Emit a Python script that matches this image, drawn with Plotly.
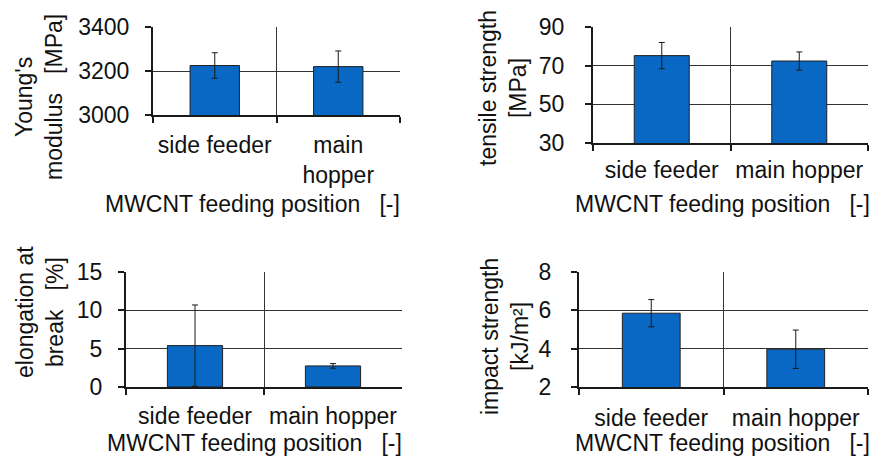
import plotly.graph_objects as go

# page body has an 8px margin; the figure is sized so it ends at the window edge
OFF = 8
W, H = 879 - OFF, 459 - OFF

# ---- data ----
cats_p1 = ["side feeder", "main<br>hopper"]
cats = ["side feeder", "main hopper"]

youngs_modulus = [3225, 3220]
youngs_err = [58, 71]

tensile_strength = [75.2, 72.4]
tensile_err = [6.8, 4.7]

elongation = [5.4, 2.75]
elongation_err = [5.3, 0.3]

impact_strength = [5.85, 3.97]
impact_err = [0.71, 1.0]

y_titles = ["Young's<br>modulus   [MPa]", "tensile strength<br>[MPa]",
            "elongation at<br>break   [%]", "impact strength<br>[kJ/m²]"]
x_title = "MWCNT feeding position   [-]"

y_ticks = [[3000, 3200, 3400], [30, 50, 70, 90], [0, 5, 10, 15], [2, 4, 6, 8]]
y_ranges = [[3000, 3400], [30, 90], [0, 15], [2, 8]]

# ---- layout geometry (window pixels) ----
panels = [
    dict(x0=153, x1=400, y0=27, y1=115, ystand=11, xstand=8, ytx=39, yty=97, xtx=252, xty=204),
    dict(x0=593, x1=868, y0=27, y1=143, ystand=16, xstand=5, ytx=503, yty=88, xtx=722, xty=204),
    dict(x0=126, x1=402, y0=272, y1=387, ystand=11, xstand=7, ytx=40, yty=312, xtx=254, xty=443),
    dict(x0=579, x1=868, y0=272, y1=387, ystand=15, xstand=9, ytx=505, yty=337, xtx=722, xty=443),
]

series = [
    (cats_p1, youngs_modulus, youngs_err),
    (cats, tensile_strength, tensile_err),
    (cats, elongation, elongation_err),
    (cats, impact_strength, impact_err),
]

FONT = "Liberation Sans, Arial, sans-serif"
FS = 23
BAR = "#0868C4"
INK = "#1a1a1a"


def px(x):
    return (x - OFF) / W


def py(y):
    return 1 - (y - OFF) / H


fig = go.Figure()
annotations = []
for i, (p, (cx, vals, errs)) in enumerate(zip(panels, series)):
    n = "" if i == 0 else str(i + 1)
    fig.add_trace(go.Bar(
        x=cx, y=vals, width=0.4,
        marker=dict(color=BAR, line=dict(color="#222", width=1)),
        error_y=dict(type="data", array=errs, visible=True, color=INK,
                     thickness=1, width=3),
        xaxis="x" + n, yaxis="y" + n, showlegend=False,
    ))
    fig.layout["xaxis" + n] = dict(
        domain=[px(p["x0"]), px(p["x1"])], anchor="y" + n,
        type="category", tickson="boundaries", tickangle=0,
        automargin=False,
        showline=True, linecolor=INK, linewidth=2,
        ticks="outside", ticklen=6, tickwidth=2, tickcolor=INK,
        showgrid=True, gridcolor="#333", gridwidth=1,
        ticklabelstandoff=p["xstand"],
        tickfont=dict(family=FONT, size=FS, color="#111"),
        range=[-0.5, 1.5], fixedrange=True,
    )
    fig.layout["yaxis" + n] = dict(
        domain=[py(p["y1"]), py(p["y0"])], anchor="x" + n, range=y_ranges[i],
        automargin=False,
        tickmode="array", tickvals=y_ticks[i],
        showline=True, linecolor=INK, linewidth=2,
        ticks="outside", ticklen=6, tickwidth=2, tickcolor=INK,
        showgrid=True, gridcolor="#333", gridwidth=1, zeroline=False,
        ticklabelstandoff=p["ystand"],
        tickfont=dict(family=FONT, size=FS, color="#111"),
    )
    annotations.append(dict(
        text=y_titles[i], textangle=-90, xref="paper", yref="paper",
        x=px(p["ytx"]), y=py(p["yty"]), xanchor="center", yanchor="middle",
        showarrow=False, font=dict(family=FONT, size=FS, color="#111"),
    ))
    annotations.append(dict(
        text=x_title, xref="paper", yref="paper",
        x=px(p["xtx"]), y=py(p["xty"]), xanchor="center", yanchor="middle",
        showarrow=False, font=dict(family=FONT, size=FS, color="#111"),
    ))

fig.update_layout(
    width=W, height=H, margin=dict(l=0, r=0, t=0, b=0, autoexpand=False),
    paper_bgcolor="white", plot_bgcolor="white",
    annotations=annotations, bargap=0.6,
)

fig.write_html("out.html")
